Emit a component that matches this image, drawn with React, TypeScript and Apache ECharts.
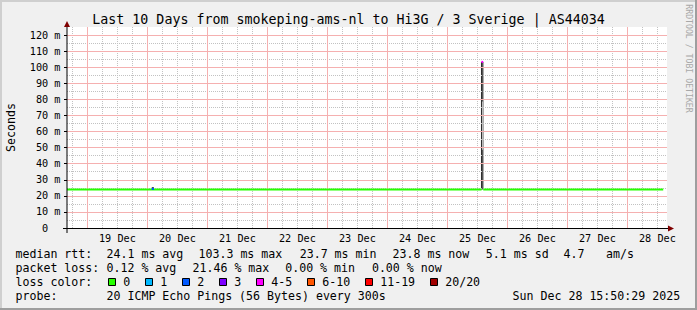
import React, { useEffect, useRef } from 'react';
import * as echarts from 'echarts';

// ---------- time frame ----------
const HOUR = 3600 * 1000;
const END_TIME = Date.UTC(2025, 11, 28, 15, 50, 29);
const START_TIME = END_TIME - 240 * HOUR;
const Y_MAX = 125;

// ---------- tick labels ----------
const xDayLabels = ['19 Dec', '20 Dec', '21 Dec', '22 Dec', '23 Dec', '24 Dec', '25 Dec', '26 Dec', '27 Dec', '28 Dec'];
const xDayNoons = [
  '2025-12-19T12:00', '2025-12-20T12:00', '2025-12-21T12:00', '2025-12-22T12:00', '2025-12-23T12:00',
  '2025-12-24T12:00', '2025-12-25T12:00', '2025-12-26T12:00', '2025-12-27T12:00', '2025-12-28T12:00',
];
const xDayStarts = [
  '2025-12-19T00:00', '2025-12-20T00:00', '2025-12-21T00:00', '2025-12-22T00:00', '2025-12-23T00:00',
  '2025-12-24T00:00', '2025-12-25T00:00', '2025-12-26T00:00', '2025-12-27T00:00', '2025-12-28T00:00',
];
const yMajorTicks = [0, 10, 20, 30, 40, 50, 60, 70, 80, 90, 100, 110, 120];
const yMinorTicks = [5, 15, 25, 35, 45, 55, 65, 75, 85, 95, 105, 115];

// ---------- data (ms) ----------
// median rtt, coloured by loss; '-' = gap
const medianLoss0: [string, number | string][] = [
  ['2025-12-18T15:51', 24.0],
  ['2025-12-25T13:40', 24.0],
  ['2025-12-25T13:41', '-'],
  ['2025-12-25T14:20', 24.0],
  ['2025-12-28T14:20', 24.0],
];
const medianLoss2: [string, number][] = [
  ['2025-12-20T01:43', 24.3],
  ['2025-12-20T02:38', 24.3],
];
const medianLoss45: [string, number][] = [
  ['2025-12-25T13:35', 103.3],
  ['2025-12-25T14:20', 103.3],
];
// smoke: [from, to, low, high]
const smoke: [string, string, number, number][] = [
  ['2025-12-20T01:45', '2025-12-20T02:35', 24.4, 25.4],
  ['2025-12-25T13:26', '2025-12-25T13:50', 24.0, 103.3],
  ['2025-12-25T13:50', '2025-12-25T14:07', 24.0, 48.6],
  ['2025-12-25T13:50', '2025-12-25T14:07', 78.6, 103.3],
  ['2025-12-25T14:07', '2025-12-25T14:24', 24.0, 103.3],
];

// ---------- legend ----------
const legendRows: { y: number; parts: [number, string][] }[] = [
  { y: 254, parts: [[15.5, 'median rtt:'], [106.5, '24.1 ms avg'], [198.5, '103.3 ms max'], [299.7, '23.7 ms min'], [392.5, '23.8 ms now'], [485.8, '5.1 ms sd'], [563.5, '4.7'], [606, 'am/s']] },
  { y: 268, parts: [[15.5, 'packet loss:'], [106.5, '0.12 % avg'], [192.5, '21.46 % max'], [285.2, '0.00 % min'], [371.9, '0.00 % now']] },
  { y: 282, parts: [[15.5, 'loss color:']] },
  { y: 296, parts: [[15.5, 'probe:'], [106.5, '20 ICMP Echo Pings (56 Bytes) every 300s'], [512.6, 'Sun Dec 28 15:50:29 2025']] },
];
const lossLabels = ['0', '1', '2', '3', '4-5', '6-10', '11-19', '20/20'];
const lossColors = ['#26ff00', '#00b8ff', '#0059ff', '#7e00ff', '#ff00ff', '#ff5500', '#ff0000', '#a10000'];
const lossBoxX = [108.5, 145.5, 182.5, 219.5, 256.5, 307.5, 365.5, 430.5];

const MONO = '"DejaVu Sans Mono", monospace';
const MAJOR = '#f5b0b0';
const MINOR = '#c2c2c2';

const tm = (s: string) => Date.parse(s + ':00Z');

function gridSeries(name: string, data: any[], color: string, dash: any) {
  return {
    type: 'line', name, data: [[START_TIME, '-']], symbol: 'none', silent: true, z: 1,
    lineStyle: { width: 0 },
    markLine: {
      silent: true, animation: false, symbol: ['none', 'none'], precision: 10,
      label: { show: false },
      emphasis: { disabled: true },
      lineStyle: { color, width: 1, type: dash, opacity: 1 },
      data,
    },
  };
}

export default function App() {
  const ref = useRef<HTMLDivElement>(null);
  useEffect(() => {
    const chart = echarts.init(ref.current!, null, { renderer: 'svg' });

    const noonVals = xDayNoons.map(tm);
    const dayVals = xDayStarts.map(tm);
    const vMinor: number[] = [];
    for (let t = Date.UTC(2025, 11, 18, 18); t < END_TIME; t += 6 * HOUR) {
      if (dayVals.indexOf(t) < 0) vMinor.push(t);
    }

    const toPts = (arr: [string, number | string][]) => arr.map(([s, v]) => [tm(s), v]);

    const graphics: any[] = [];
    // frame
    graphics.push(
      { type: 'rect', shape: { x: 0, y: 0, width: 697, height: 2 }, style: { fill: '#cfcfcf' }, z: 50 },
      { type: 'rect', shape: { x: 0, y: 0, width: 2, height: 310 }, style: { fill: '#cfcfcf' }, z: 50 },
      { type: 'rect', shape: { x: 0, y: 308, width: 697, height: 2 }, style: { fill: '#9e9e9e' }, z: 50 },
      { type: 'rect', shape: { x: 695, y: 0, width: 2, height: 310 }, style: { fill: '#9e9e9e' }, z: 50 },
    );
    // axes lines + arrows
    graphics.push(
      { type: 'line', shape: { x1: 63, y1: 228.5, x2: 668, y2: 228.5 }, style: { stroke: '#000', lineWidth: 1 }, z: 40 },
      { type: 'line', shape: { x1: 67, y1: 233, x2: 67, y2: 26 }, style: { stroke: '#000', lineWidth: 1 }, z: 40 },
      { type: 'polygon', shape: { points: [[668, 225.5], [674, 228.5], [668, 231.5]] }, style: { fill: '#7f0000' }, z: 41 },
      { type: 'polygon', shape: { points: [[64, 27], [67, 21], [70, 27]] }, style: { fill: '#7f0000' }, z: 41 },
    );
    // title
    graphics.push({
      type: 'text', x: 348.5, y: 19, z: 40,
      style: { text: 'Last 10 Days from smokeping-ams-nl to Hi3G / 3 Sverige | AS44034', fontFamily: MONO, fontSize: 13.3, fill: '#000', textAlign: 'center', textVerticalAlign: 'middle' },
    });
    // y title
    graphics.push({
      type: 'text', x: 10.5, y: 127.5, rotation: Math.PI / 2, z: 40,
      style: { text: 'Seconds', fontFamily: MONO, fontSize: 11.6, fill: '#000', textAlign: 'center', textVerticalAlign: 'middle' },
    });
    // watermark
    graphics.push({
      type: 'text', x: 688.5, y: 58.5, rotation: -Math.PI / 2, z: 40,
      style: { text: 'RRDTOOL / TOBI OETIKER', fontFamily: MONO, fontSize: 8.2, fill: '#a8a8a8', textAlign: 'center', textVerticalAlign: 'middle' },
    });
    // legend text
    legendRows.forEach((row) => {
      row.parts.forEach(([x, text]) => {
        graphics.push({
          type: 'text', x, y: row.y, z: 40,
          style: { text, fontFamily: MONO, fontSize: 11.6, fill: '#000', textAlign: 'left', textVerticalAlign: 'middle' },
        });
      });
    });
    lossLabels.forEach((lab, i) => {
      graphics.push({
        type: 'rect', z: 40, shape: { x: lossBoxX[i], y: 278.5, width: 7, height: 7 },
        style: { fill: lossColors[i], stroke: '#000', lineWidth: 1 },
      });
      graphics.push({
        type: 'text', x: lossBoxX[i] + 14.7, y: 282, z: 40,
        style: { text: lab, fontFamily: MONO, fontSize: 11.6, fill: '#000', textAlign: 'left', textVerticalAlign: 'middle' },
      });
    });

    const option: any = {
      animation: false,
      backgroundColor: '#f0f0f0',
      grid: {
        left: 67, top: 27, width: 600, height: 201,
        show: true, backgroundColor: '#ffffff', borderWidth: 0,
        containLabel: false, outerBoundsMode: 'none',
      },
      xAxis: {
        type: 'value', min: START_TIME, max: END_TIME,
        axisLine: { show: false }, axisTick: { show: false }, splitLine: { show: false },
        axisLabel: {
          customValues: noonVals,
          formatter: (v: number) => {
            const i = noonVals.indexOf(v);
            return i >= 0 ? xDayLabels[i] : '';
          },
          fontFamily: MONO, fontSize: 10.2, color: '#000', margin: 5,
        },
      },
      yAxis: {
        type: 'value', min: 0, max: Y_MAX, interval: 10,
        axisLine: { show: false },
        axisTick: { show: true, inside: false, length: 3, customValues: yMajorTicks, lineStyle: { color: '#000', width: 1 } },
        splitLine: { show: false },
        axisLabel: {
          showMaxLabel: false,
          formatter: (v: number) => (v === 0 ? '0\u00a0\u00a0' : yMajorTicks.indexOf(v) >= 0 ? `${v} m` : ''),
          fontFamily: MONO, fontSize: 10.2, color: '#000', margin: 6.5,
        },
      },
      graphic: { elements: graphics },
      series: [
        gridSeries('minorGrid', [
          ...vMinor.map((t) => ({ xAxis: t })),
          ...yMinorTicks.map((v) => ({ yAxis: v })),
        ], MINOR, [1, 1]),
        gridSeries('majorGrid', [
          ...dayVals.map((t) => ({ xAxis: t })),
          ...yMajorTicks.filter((v) => v > 0).map((v) => ({ yAxis: v })),
        ], MAJOR, 'solid'),
        {
          type: 'custom', name: 'smoke', silent: true, z: 2,
          encode: { x: [0, 1], y: [2, 3] },
          data: smoke.map(([a, b, lo, hi]) => [tm(a), tm(b), lo, hi]),
          renderItem: (_p: any, api: any) => {
            const p1 = api.coord([api.value(0), api.value(3)]);
            const p2 = api.coord([api.value(1), api.value(2)]);
            return {
              type: 'rect',
              shape: { x: p1[0], y: p1[1], width: p2[0] - p1[0], height: p2[1] - p1[1] },
              style: { fill: '#2b2b2b' },
            };
          },
        },
        {
          type: 'line', name: 'loss0', data: toPts(medianLoss0), symbol: 'none', silent: true, z: 5,
          connectNulls: false, lineStyle: { color: lossColors[0], width: 2 },
        },
        {
          type: 'line', name: 'loss2', data: toPts(medianLoss2), symbol: 'none', silent: true, z: 6,
          lineStyle: { color: lossColors[2], width: 2 },
        },
        {
          type: 'line', name: 'loss45', data: toPts(medianLoss45), symbol: 'none', silent: true, z: 6,
          lineStyle: { color: lossColors[4], width: 2 },
        },
      ],
    };
    chart.setOption(option);
    return () => chart.dispose();
  }, []);
  return <div ref={ref} style={{ position: 'absolute', left: 0, top: 0, width: 697, height: 310 }} />;
}
